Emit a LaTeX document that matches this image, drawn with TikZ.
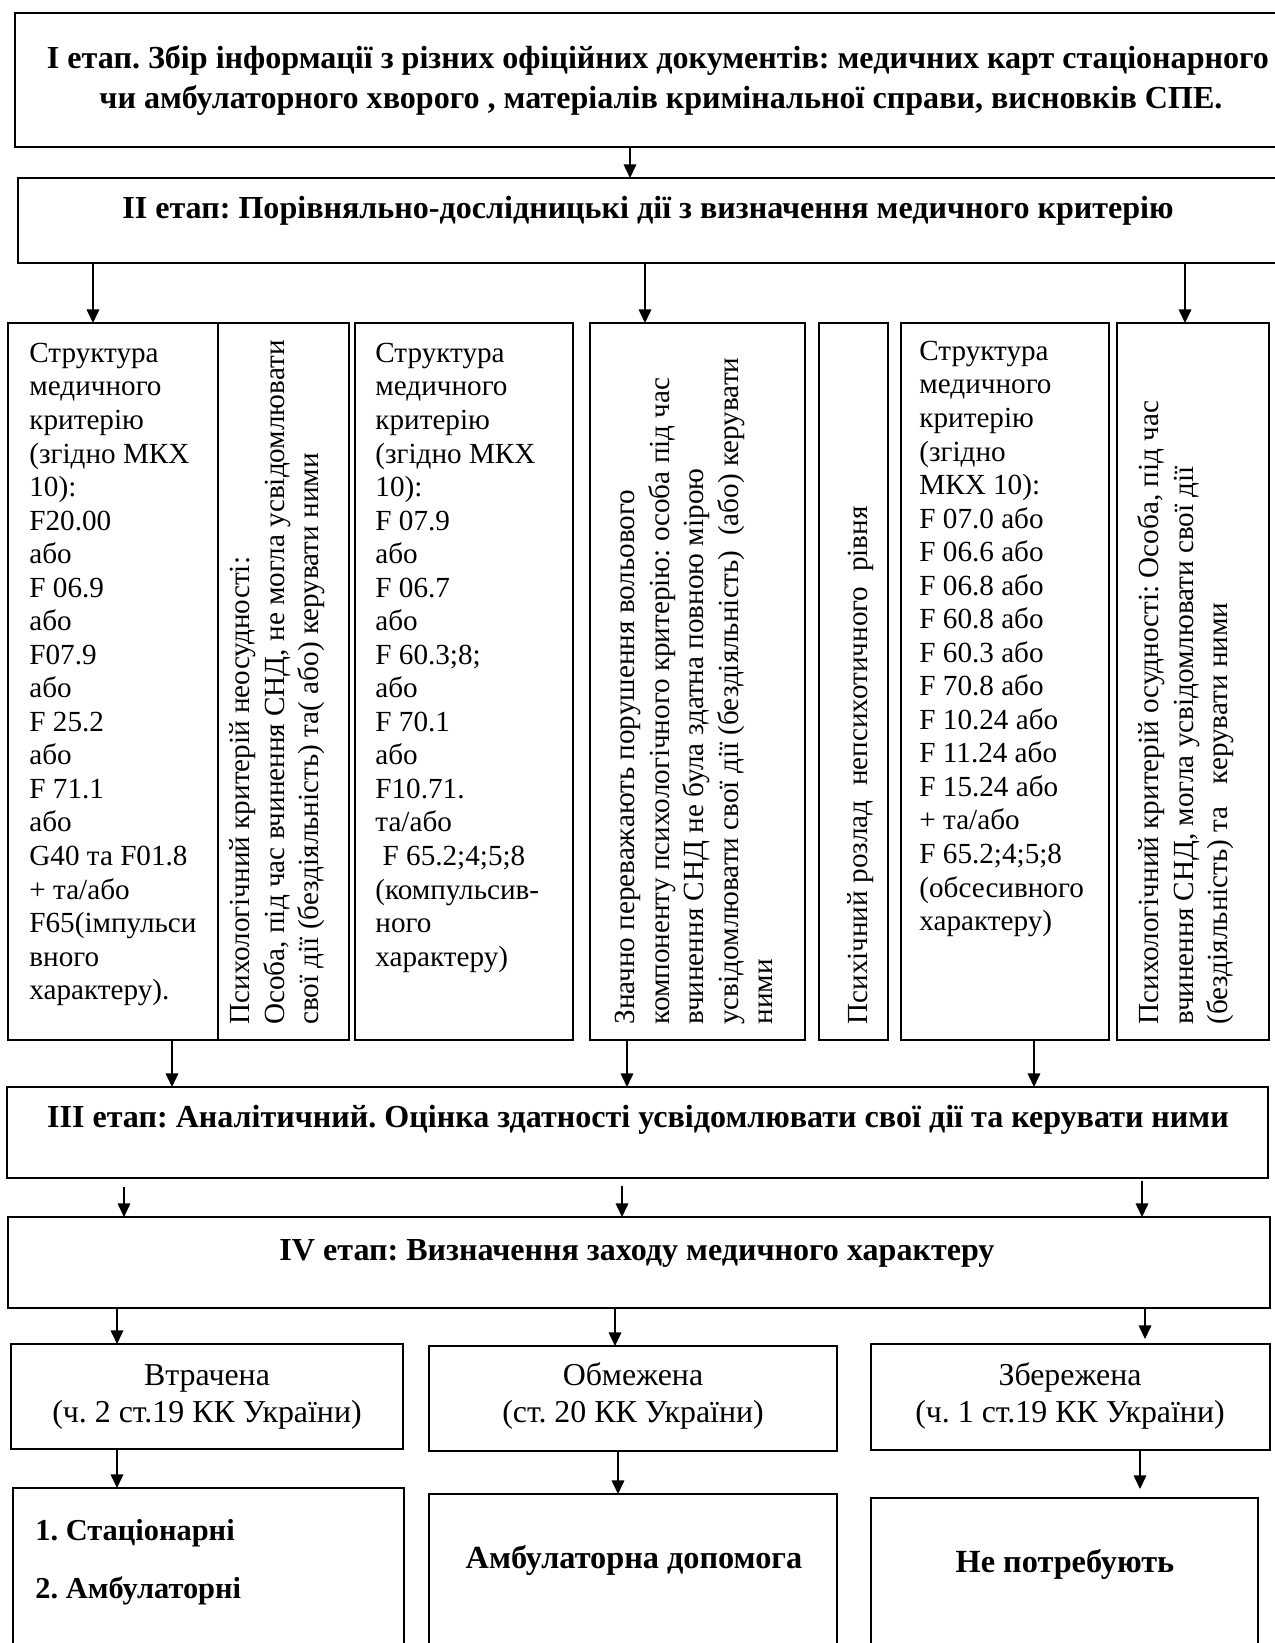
\documentclass[tikz,border=0pt]{standalone}
\usepackage{fontspec}
\setmainfont{Liberation Serif}
\usetikzlibrary{arrows.meta,fit}
\frenchspacing
\begin{document}
\begin{tikzpicture}[x=0.48pt,y=-0.48pt,
 box/.style={draw, line width=0.9pt, inner sep=0pt, outer sep=0pt},
 arr/.style={line width=0.8pt, -{Triangle[length=6.5pt,width=6pt]}},
 hd/.style={font=\fontsize{15.4pt}{18pt}\selectfont\bfseries, inner sep=0pt, anchor=base},
 col/.style={font=\fontsize{14pt}{16.1pt}\selectfont, align=left, anchor=north west, inner sep=0pt},
 vt/.style={font=\fontsize{14pt}{16.6pt}\selectfont, align=left, rotate=90, anchor=north west, inner sep=0pt},
 lab/.style={font=\fontsize{15.3pt}{17.8pt}\selectfont, align=center, anchor=north, inner sep=0pt},
 bt/.style={font=\fontsize{15.5pt}{16.1pt}\selectfont\bfseries, inner sep=0pt}]
\useasboundingbox (0,0) rectangle (1275,1643);
\clip (0,0) rectangle (1275,1643);
% boxes
\node[box, fit={(15,13) (1300,147)}] (I) {};
\node[box, fit={(18,178) (1300,263)}] (II) {};
\node[box, fit={(8,323) (218,1040)}] (c1) {};
\node[box, fit={(218,323) (349,1040)}] (c2) {};
\node[box, fit={(355,323) (573,1040)}] (c3) {};
\node[box, fit={(590,323) (805,1040)}] (c4) {};
\node[box, fit={(819,323) (888,1040)}] (c5) {};
\node[box, fit={(901,323) (1109,1040)}] (c6) {};
\node[box, fit={(1117,323) (1269,1040)}] (c7) {};
\node[box, fit={(7,1087) (1268,1178)}] (III) {};
\node[box, fit={(8,1217) (1270,1308)}] (IV) {};
\node[box, fit={(11,1344) (403,1449)}] (A) {};
\node[box, fit={(429,1346) (837,1451)}] (B) {};
\node[box, fit={(871,1344) (1270,1450)}] (C) {};
\node[box, fit={(13,1488) (404,1700)}] (A2) {};
\node[box, fit={(429,1494) (837,1700)}] (B2) {};
\node[box, fit={(871,1498) (1258,1700)}] (C2) {};
% texts
\node[hd] (t1a) at (658,68) {I етап. Збір інформації з різних офіційних документів: медичних карт стаціонарного};
\node[hd] (t1b) at (661,108) {чи амбулаторного хворого , матеріалів кримінальної справи, висновків СПЕ.};
\node[hd] (t2) at (648,218) {II етап: Порівняльно-дослідницькі дії з визначення медичного критерію};
\node[col] (t3) at (29,338.5) {\strut Структура\\медичного\\критерію\\(згідно МКХ\\10):\\F20.00\\або\\F 06.9\\або\\F07.9\\або\\F 25.2\\або\\F 71.1\\або\\G40 та F01.8\\+ та/або\\F65(імпульси\\вного\\характеру).};
\node[vt] (t4) at (225,1025) {\strut Психологічний критерій неосудності:\\Особа, під час вчинення СНД, не могла усвідомлювати\\свої дії (бездіяльність) та( або) керувати ними};
\node[col] (t5) at (375,338.5) {\strut Структура\\медичного\\критерію\\(згідно МКХ\\10):\\F 07.9\\або\\F 06.7\\або\\F 60.3;8;\\або\\F 70.1\\або\\F10.71.\\та/або\\\ F 65.2;4;5;8\\(компульсив-\\ного\\характеру)};
\node[vt] (t6) at (610,1025) {\strut Значно переважають порушення вольового\\компоненту психологічного критерію: особа під час\\вчинення СНД не була здатна повною мірою\\усвідомлювати свої дії (бездіяльність) \ (або) керувати\\ними};
\node[vt] (t7) at (843,1025) {\strut Психічний розлад \ непсихотичного \ рівня};
\node[col] (t8) at (919,336.5) {\strut Структура\\медичного\\критерію\\(згідно\\МКХ 10):\\F 07.0 або\\F 06.6 або\\F 06.8 або\\F 60.8 або\\F 60.3 або\\F 70.8 або\\F 10.24 або\\F 11.24 або\\F 15.24 або\\+ та/або\\F 65.2;4;5;8\\(обсесивного\\характеру)};
\node[vt] (t9) at (1134,1025) {\strut Психологічний критерій осудності: Особа, під час\\вчинення СНД, могла усвідомлювати свої дії\\(бездіяльність) та \ \ керувати ними};
\node[hd] (t10) at (638,1127) {III етап: Аналітичний. Оцінка здатності усвідомлювати свої дії та керувати ними};
\node[hd] (t11) at (637,1260) {IV етап: Визначення заходу медичного характеру};
\node[lab] (t12) at (207,1359) {\strut Втрачена\\(ч. 2 ст.19 КК України)};
\node[lab] (t13) at (633,1359) {\strut Обмежена\\(ст. 20 КК України)};
\node[lab] (t14) at (1070,1359) {\strut Збережена\\(ч. 1 ст.19 КК України)};
\node[bt, anchor=base west, font=\fontsize{14.6pt}{16pt}\selectfont\bfseries] (t15) at (35,1540) {1. Стаціонарні};
\node[bt, anchor=base west, font=\fontsize{14.6pt}{16pt}\selectfont\bfseries] (t16) at (35,1598) {2. Амбулаторні};
\node[bt, anchor=base] (t17) at (634,1568) {Амбулаторна допомога};
\node[bt, anchor=base] (t18) at (1065,1572) {Не потребують};
% x references and free ends
\coordinate (x1) at (630,0);
\coordinate (x2) at (93,0);
\coordinate (x3) at (645,0);
\coordinate (x4) at (1185,0);
\coordinate (x5) at (172,0);
\coordinate (x6) at (627,0);
\coordinate (x7) at (1034,0);
\coordinate (s8) at (124,1187);
\coordinate (s9) at (622,1186);
\coordinate (s10) at (1142,1181);
\coordinate (x11) at (117,0);
\coordinate (x12) at (615,0);
\coordinate (x13) at (1145,0);
\coordinate (e13) at (1145,1339);
\coordinate (x15) at (618,0);
\coordinate (x16) at (1140,0);
\coordinate (e16) at (1140,1489);
% connectors
\draw[arr] (I.south -| x1) -- (II.north -| x1);
\draw[arr] (II.south -| x2) -- (c1.north -| x2);
\draw[arr] (II.south -| x3) -- (c4.north -| x3);
\draw[arr] (II.south -| x4) -- (c7.north -| x4);
\draw[arr] (c1.south -| x5) -- (III.north -| x5);
\draw[arr] (c4.south -| x6) -- (III.north -| x6);
\draw[arr] (c6.south -| x7) -- (III.north -| x7);
\draw[arr] (s8) -- (IV.north -| s8);
\draw[arr] (s9) -- (IV.north -| s9);
\draw[arr] (s10) -- (IV.north -| s10);
\draw[arr] (IV.south -| x11) -- (A.north -| x11);
\draw[arr] (IV.south -| x12) -- (B.north -| x12);
\draw[arr] (IV.south -| x13) -- (e13);
\draw[arr] (A.south -| x11) -- (A2.north -| x11);
\draw[arr] (B.south -| x15) -- (B2.north -| x15);
\draw[arr] (C.south -| x16) -- (e16);
\end{tikzpicture}
\end{document}
